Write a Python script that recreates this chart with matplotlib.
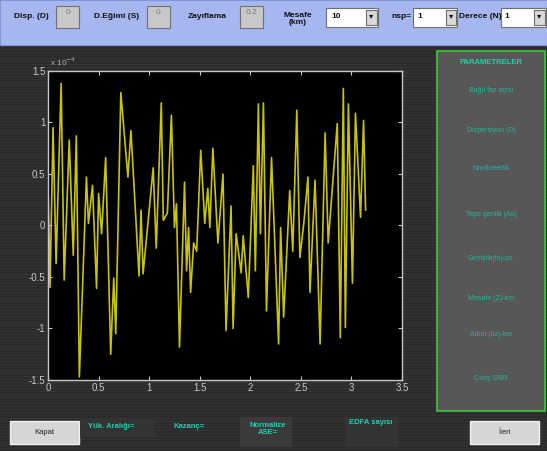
import matplotlib
matplotlib.use("Agg")
import matplotlib.pyplot as plt
from matplotlib.patches import Rectangle

W, H = 547, 451

# ---- data (signal, units of 1e-4) ----
t = [0.0, 0.02, 0.05, 0.08, 0.13, 0.16, 0.21, 0.25, 0.28, 0.31, 0.38, 0.40, 0.44, 0.48,
     0.50, 0.53, 0.57, 0.62, 0.65, 0.67, 0.72, 0.79, 0.82, 0.90, 0.92, 0.94, 1.04, 1.07,
     1.12, 1.14, 1.18, 1.22, 1.25, 1.27, 1.30, 1.35, 1.37, 1.39, 1.41, 1.44, 1.47, 1.51,
     1.55, 1.58, 1.60, 1.63, 1.68, 1.73, 1.76, 1.81, 1.83, 1.86, 1.91, 1.93, 1.98, 2.03,
     2.05, 2.08, 2.10, 2.13, 2.16, 2.21, 2.28, 2.30, 2.33, 2.39, 2.42, 2.46, 2.49, 2.53,
     2.57, 2.59, 2.64, 2.69, 2.74, 2.77, 2.86, 2.89, 2.92, 2.94, 2.97, 3.01, 3.04, 3.09,
     3.12, 3.14]
s = [0.41, -0.60, 0.95, -0.37, 1.38, -0.53, 0.83, -0.29, 0.87, -1.47, 0.47, 0.02, 0.39, -0.61,
     0.31, -0.08, 0.66, -1.25, -0.51, -1.05, 1.29, 0.47, 0.92, -0.49, 0.15, -0.47, 0.56, -0.22,
     1.19, 0.05, 0.12, 1.07, -0.02, 0.21, -1.18, 0.42, -0.44, -0.02, -0.65, -0.17, -0.25, 0.73,
     0.02, 0.36, -0.02, 0.75, -0.17, 0.50, -1.02, 0.19, -1.00, -0.08, -0.46, -0.10, -0.70, 0.58,
     -0.44, 1.18, -0.08, 1.19, -0.83, 0.66, -1.15, -0.02, -0.89, 0.34, -0.25, 1.12, -0.31, 0.03,
     0.47, -0.65, 0.44, -1.15, 0.90, -0.17, 0.99, -1.09, 1.33, -0.99, 1.18, -0.56, 1.09, 0.08,
     1.02, 0.15]

xticks = [0, 0.5, 1, 1.5, 2, 2.5, 3, 3.5]
xticklabels = ["0", "0.5", "1", "1.5", "2", "2.5", "3", "3.5"]
yticks = [-1.5, -1, -0.5, 0, 0.5, 1, 1.5]
yticklabels = ["-1.5", "-1", "-0.5", "0", "0.5", "1", "1.5"]

param_labels = ["Bağıl faz açısı", "Dispersiyon (D)", "Nonlineerlik", "Tepe genlik (Ao)",
                "Genişlik(to)-ps", "Mesafe (Z)-km", "Adım (dz)-km", "Çıkış SNR"]
param_y = [90, 130, 169, 214, 259, 299, 334, 378]

fig = plt.figure(figsize=(W / 100, H / 100), dpi=100)
fig.patch.set_facecolor("#2c2c2c")

FONT = ["Liberation Sans", "DejaVu Sans"]


def fx(x):
    return x / W


def fy(y):
    return 1 - y / H


def rect(x0, y0, x1, y1, fc, ec="none", lw=0.8, z=1):
    fig.patches.append(Rectangle((fx(x0), fy(y1)), (x1 - x0) / W, (y1 - y0) / H,
                                 transform=fig.transFigure, facecolor=fc, edgecolor=ec,
                                 linewidth=lw, zorder=z))


def txt(x, y, s, color="#101010", size=6, weight="bold", ha="left", va="center", **kw):
    fig.text(fx(x), fy(y), s, color=color, fontsize=size, fontweight=weight, ha=ha, va=va,
             family=FONT, **kw)


# background stripes (texture)
for yy in range(46, H, 3):
    fig.add_artist(plt.Line2D([0, 1], [fy(yy), fy(yy)], transform=fig.transFigure,
                              color="#363636", lw=0.6, zorder=0))

# ---- top bar ----
rect(0, 0, W, 45, "#a6b6f0", ec="#8494d4", lw=0.8)
txt(14, 17, "Disp. (D)")
rect(56, 6, 79, 28, "#c8c8c8", ec="#707070")
txt(67.5, 13, "0", color="#777777", size=6, weight="normal", ha="center")
txt(94, 17, "D.Eğimi (S)")
rect(147, 6, 170, 28, "#c8c8c8", ec="#707070")
txt(158.5, 13, "0", color="#777777", size=6, weight="normal", ha="center")
txt(188, 17, "Zayıflama")
rect(240, 6, 263, 28, "#c8c8c8", ec="#707070")
txt(251.5, 13, "0.2", color="#777777", size=6, weight="normal", ha="center")
txt(298, 19, "Mesafe\n(km)", ha="center", linespacing=0.9)
rect(326, 8, 378, 27, "#ffffff", ec="#707070")
txt(331, 17, "10")
rect(366, 10, 377, 25, "#d8d8d8", ec="#707070")
txt(371.5, 17, "▾", size=6, ha="center")
txt(391, 17, "nsp=")
rect(413, 8, 457, 27, "#ffffff", ec="#707070")
txt(417, 17, "1")
rect(446, 10, 456, 25, "#d8d8d8", ec="#707070")
txt(451, 17, "▾", size=6, ha="center")
txt(459, 17, "Derece (N)")
rect(501, 8, 546, 27, "#ffffff", ec="#707070")
txt(504, 17, "1")
rect(534, 10, 545, 25, "#d8d8d8", ec="#707070")
txt(539.5, 17, "▾", size=6, ha="center")

# ---- right parameter panel ----
rect(437, 51, 545, 411, "#575757", ec="#3cc83c", lw=1.2)
txt(491, 62, "PARAMETRELER", color="#1ed0b0", size=5.5, ha="center")
for lab, yy in zip(param_labels, param_y):
    txt(491, yy, lab, color="#22b7a0", size=5, weight="normal", ha="center")

# ---- bottom controls ----
rect(10, 421, 79, 444, "#d6d6d6", ec="#f0f0f0", lw=1)
txt(44.5, 432.5, "Kapat", color="#202020", size=5.5, weight="normal", ha="center")
rect(470, 421, 539, 444, "#d6d6d6", ec="#f0f0f0", lw=1)
txt(504.5, 432.5, "İleri", color="#202020", size=5.5, weight="normal", ha="center")
rect(80, 418, 155, 437, "#333333")
rect(240, 417, 292, 447, "#3a3a3a")
rect(345, 417, 398, 447, "#333333")
txt(88, 426, "Yük. Aralığı=", color="#1ed0b0", size=5.5)
txt(173, 427, "Kazanç=", color="#1ed0b0", size=5.5)
txt(268, 429, "Normalize\nASE=", color="#1ed0b0", size=5.5, ha="center", linespacing=1.1)
txt(371, 423, "EDFA sayısı", color="#1ed0b0", size=5.5, ha="center")

# ---- plot axes ----
ax = fig.add_axes([fx(48), fy(380), (402 - 48) / W, (380 - 71) / H])
ax.set_facecolor("black")
ax.plot(t, s, color="#c8c400", lw=1.2)
ax.set_xlim(0, 3.5)
ax.set_ylim(-1.5, 1.5)
ax.set_xticks(xticks)
ax.set_xticklabels(xticklabels)
ax.set_yticks(yticks)
ax.set_yticklabels(yticklabels)
ax.tick_params(direction="in", length=3, color="#c8c8c8", labelcolor="#c8c8c8",
               labelsize=7, top=True, right=True, pad=2)
for sp in ax.spines.values():
    sp.set_color("#c8c8c8")
    sp.set_linewidth(1.0)
for lab in ax.get_xticklabels() + ax.get_yticklabels():
    lab.set_family(FONT)
txt(50, 62, "x 10$^{-4}$", color="#b0b0b0", size=6, weight="normal")

fig.savefig("out.png", dpi=100, facecolor=fig.get_facecolor())
